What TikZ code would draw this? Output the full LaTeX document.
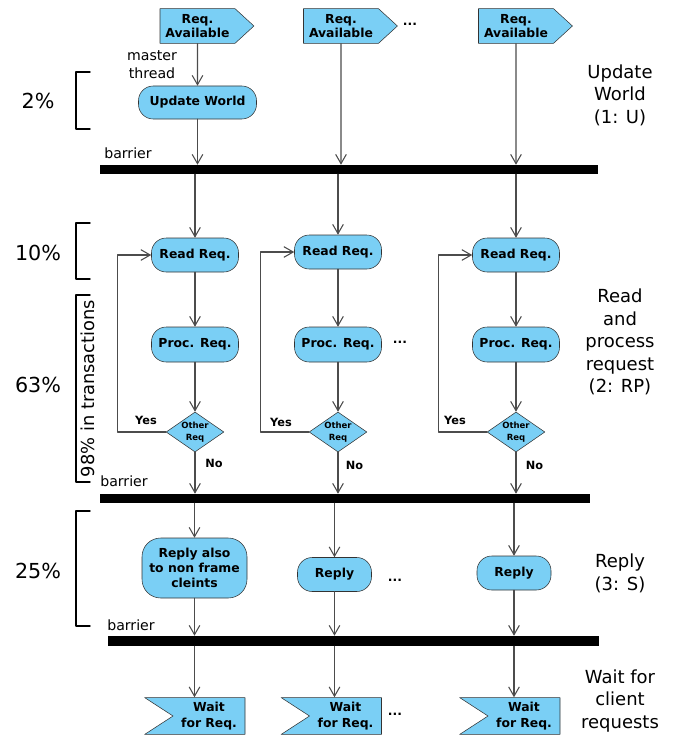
\documentclass[tikz,border=0pt]{standalone}
\usepackage{fontspec}
\setmainfont{DejaVu Sans}
\usetikzlibrary{shapes.geometric}
\usetikzlibrary{shapes.symbols}
\usetikzlibrary{arrows.meta}

\definecolor{actblue}{RGB}{122,207,245}

\begin{document}
\begin{tikzpicture}[x=0.75pt,y=-0.75pt,line cap=round,line join=round,
  act/.style={draw=black!80,fill=actblue,rounded corners=11pt,inner sep=0pt,
    align=center,font=\bfseries\fontsize{9.3}{11.2}\selectfont},
  reqav/.style={signal,signal to=east,signal pointer angle=85,draw=black!80,
    fill=actblue,inner xsep=0pt,text width=56.25pt,minimum height=26pt,
    align=center,font=\bfseries\fontsize{9.3}{10.5}\selectfont},
  waitrq/.style={signal,signal to=nowhere,signal from=west,signal pointer angle=66,
    draw=black!80,fill=actblue,inner xsep=0pt,text width=54pt,minimum height=25.5pt,
    align=center,font=\bfseries\fontsize{9.3}{12}\selectfont},
  decide/.style={diamond,aspect=1.45,draw=black!80,fill=actblue,inner sep=0pt,
    minimum width=42pt,minimum height=30pt,align=center,
    font=\bfseries\fontsize{6.4}{9.5}\selectfont},
  barbox/.style={fill=black,inner sep=0pt},
  flow/.style={draw=black!70,line width=0.8pt,-{Straight Barb[length=7pt,width=8pt]}},
  bracket/.style={line width=1.1pt},
  small/.style={font=\fontsize{10.6}{13.5}\selectfont,align=center},
  tag/.style={font=\bfseries\fontsize{8.5}{10}\selectfont},
  dots/.style={font=\bfseries\fontsize{9.3}{11}\selectfont},
  pct/.style={font=\fontsize{15.5}{18}\selectfont},
  phase/.style={font=\fontsize{13.5}{16.8}\selectfont,align=center},
  ]
  \useasboundingbox (0,0) rectangle (674,742);
  % requests
  \node[reqav] (ra1) at (197.5,26) {Req.\\Available};
  \node[reqav] (ra2) at (341,26) {Req.\\Available};
  \node[reqav] (ra3) at (516,26) {Req.\\Available};
  \node[dots] (d1) at (410,24) {...};
  \node[small] (mt) at (152,64.5) {master\\thread};
  \node[act,minimum width=88.5pt,minimum height=24.75pt] (uw) at (197.5,102.5) {Update World};
  % barriers
  \node[barbox,minimum width=373.5pt,minimum height=6.75pt] (bar1) at (349,169.5) {};
  \node[barbox,minimum width=367.5pt,minimum height=6.75pt] (bar2) at (345,498.5) {};
  \node[barbox,minimum width=368.25pt,minimum height=7.5pt] (bar3) at (353.5,641) {};
  \node[small] (bt1) at (128,153) {barrier};
  \node[small] (bt2) at (124,481) {barrier};
  \node[small] (bt3) at (131,625) {barrier};
  % read and process
  \foreach \i/\x/\y in {1/195/255,2/338/252,3/516/255}{
    \node[act,minimum width=65.25pt,minimum height=25.5pt] (rr\i) at (\x,\y) {Read Req.};
    \node[act,minimum width=65.25pt,minimum height=26.25pt] (pr\i) at (\x,344.5) {Proc. Req.};
    \node[decide] (dm\i) at (\x,432) {Other\\Req};
  }
  \node[dots] (d2) at (400,342) {...};
  \node[tag] (y1) at (146,420) {Yes};
  \node[tag] (y2) at (281,422) {Yes};
  \node[tag] (y3) at (455,420) {Yes};
  \node[tag] (n1) at (214,463) {No};
  \node[tag] (n2) at (354.5,465) {No};
  \node[tag] (n3) at (534.5,465) {No};
  % reply
  \node[act,rounded corners=14pt,minimum width=78.75pt,minimum height=45pt] (rp1) at (194.5,568) {Reply also\\to non frame\\cleints};
  \node[act,minimum width=55.5pt,minimum height=25.5pt] (rp2) at (334.5,574.5) {Reply};
  \node[act,minimum width=55.5pt,minimum height=25.5pt] (rp3) at (514,573) {Reply};
  \node[dots] (d3) at (395,580) {...};
  % wait
  \node[waitrq] (wt1) at (209,716) {Wait\\for Req.};
  \node[waitrq] (wt2) at (345.5,716) {Wait\\for Req.};
  \node[waitrq] (wt3) at (524,716) {Wait\\for Req.};
  \node[dots] (d4) at (395,714) {...};
  % connectors
  \draw[flow] (ra1) -- (uw);
  \draw[flow] (uw) -- (uw |- bar1.north);
  \draw[flow] (ra2) -- (ra2 |- bar1.north);
  \draw[flow] (ra3) -- (ra3 |- bar1.north);
  \foreach \i in {1,2,3}{
    \draw[flow] (rr\i |- bar1.south) -- (rr\i);
    \draw[flow] (rr\i) -- (pr\i);
    \draw[flow] (pr\i) -- (dm\i);
    \draw[flow] (dm\i.west) -- ++(-48,0) |- (rr\i.west);
    \draw[flow] (dm\i) -- (dm\i |- bar2.north);
    \draw[flow] (rp\i |- bar2.south) -- (rp\i);
    \draw[flow] (rp\i) -- (rp\i |- bar3.north);
    \draw[flow] (rp\i |- bar3.south) -- (rp\i |- wt\i.north);
  }
  % left brackets
  \draw[bracket] (90,72) -- (76,72) -- (76,129) -- (90,129);
  \draw[bracket] (90,223) -- (76,223) -- (76,279) -- (90,279);
  \draw[bracket] (90,295) -- (76,295) -- (76,482) -- (90,482);
  \draw[bracket] (90,511) -- (76,511) -- (76,626) -- (90,626);
  \node[pct] (p2) at (38,101) {2\%};
  \node[pct] (p10) at (38,253) {10\%};
  \node[pct] (p63) at (38,385) {63\%};
  \node[pct] (p25) at (38,571) {25\%};
  \node[font=\fontsize{13.4}{16}\selectfont,rotate=90] (tr) at (88,388.5) {98\% in transactions};
  % phases
  \node[phase] (ph1) at (620,95) {Update\\World\\(1: U)};
  \node[phase] (ph2) at (620,342) {Read\\and\\process\\request\\(2: RP)};
  \node[phase] (ph3) at (620,573.5) {Reply\\(3: S)};
  \node[phase] (ph4) at (620,701) {Wait for\\client\\requests};
\end{tikzpicture}
\end{document}
